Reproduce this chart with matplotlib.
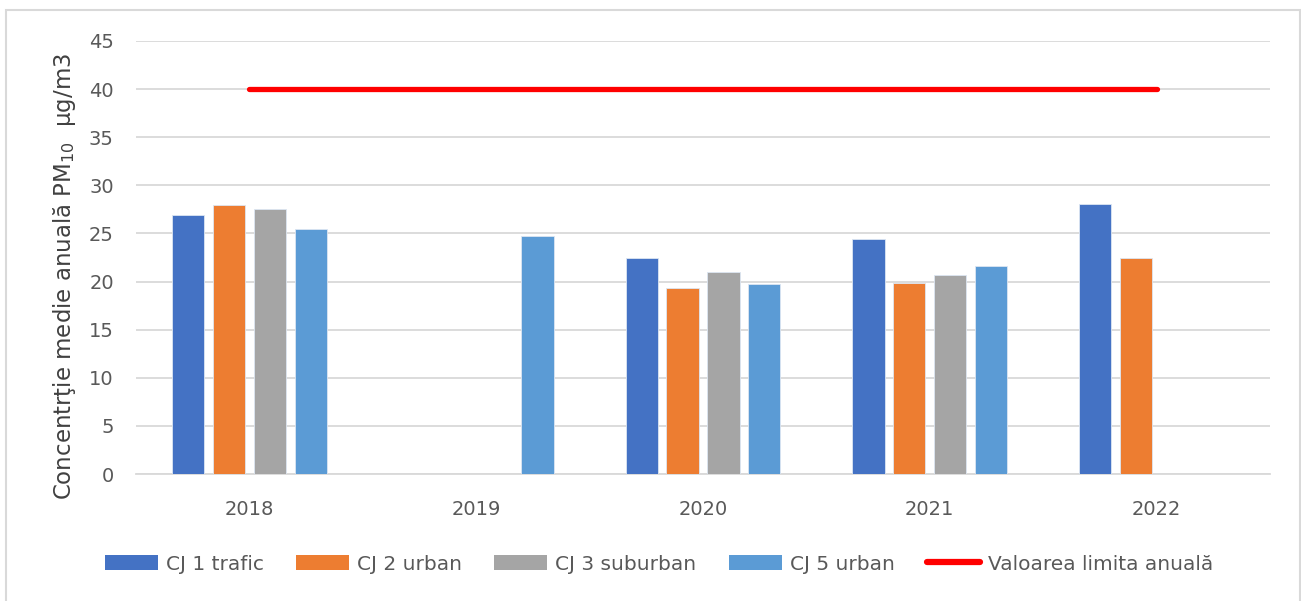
import matplotlib.pyplot as plt
import numpy as np
from matplotlib.patches import Rectangle, Patch
from matplotlib.lines import Line2D

plt.rcParams['font.family'] = ['DejaVu Sans']

years = ['2018', '2019', '2020', '2021', '2022']
series_names = ['CJ 1 trafic', 'CJ 2 urban', 'CJ 3 suburban', 'CJ 5 urban']
cj1 = [26.9, np.nan, 22.4, 24.4, 28.1]
cj2 = [28.0, np.nan, 19.3, 19.85, 22.5]
cj3 = [27.5, np.nan, 21.0, 20.7, np.nan]
cj5 = [25.5, 24.7, 19.7, 21.6, np.nan]
limit = [40, 40, 40, 40, 40]
limit_name = 'Valoarea limita anuală'

colors = ['#4472C4', '#ED7D31', '#A5A5A5', '#5B9BD5']

fig = plt.figure(figsize=(13.01, 6.01), dpi=100)
# light grey chart border
fig.patches.append(Rectangle((6 / 1301, -0.01), 1293.5 / 1301, 1 - 10 / 601 + 0.01,
                             transform=fig.transFigure, fill=False,
                             edgecolor='#D9D9D9', linewidth=1.5))

ax = fig.add_axes([136 / 1301, 127 / 601, 1134 / 1301, 433 / 601])

x = np.arange(len(years))
pitch = 0.18
width = 0.142
for i, (vals, c) in enumerate(zip([cj1, cj2, cj3, cj5], colors)):
    ax.bar(x + (i - 1.5) * pitch, vals, width, color=c, edgecolor='#DCE6F2',
           linewidth=0.6, zorder=3)

ax.plot(x, limit, color='#FF0000', linewidth=3.8, solid_capstyle='round', zorder=4)

ax.set_xlim(-0.5, len(years) - 0.5)
ax.set_ylim(0, 45)
ax.set_yticks(np.arange(0, 46, 5))
ax.set_xticks(x)
ax.set_xticklabels(years)
ax.tick_params(axis='both', length=0, labelsize=14, colors='#595959')
ax.tick_params(axis='y', pad=16)
ax.tick_params(axis='x', pad=19)
ax.grid(axis='y', color='#D9D9D9', linewidth=1.3, zorder=0)
for s in ['top', 'right', 'left']:
    ax.spines[s].set_visible(False)
ax.spines['bottom'].set_color('#D9D9D9')
ax.spines['bottom'].set_linewidth(1.3)

ax.set_ylabel('Concentrţie medie anuală PM$_{10}$  µg/m3', fontsize=16.5,
              color='#404040')
ax.yaxis.set_label_coords(-0.051, 0.457)

handles = [Patch(facecolor=c, edgecolor='none') for c in colors]
handles.append(Line2D([0], [0], color='#FF0000', linewidth=4.5, solid_capstyle='round'))
fig.legend(handles, series_names + [limit_name], loc='center',
           bbox_to_anchor=(659 / 1301, 1 - 564 / 601), ncol=5, frameon=False,
           fontsize=14.5, labelcolor='#595959', handlelength=2.63, handleheight=0.75,
           columnspacing=1.6, handletextpad=0.4)

fig.savefig('out.png', dpi=100)
